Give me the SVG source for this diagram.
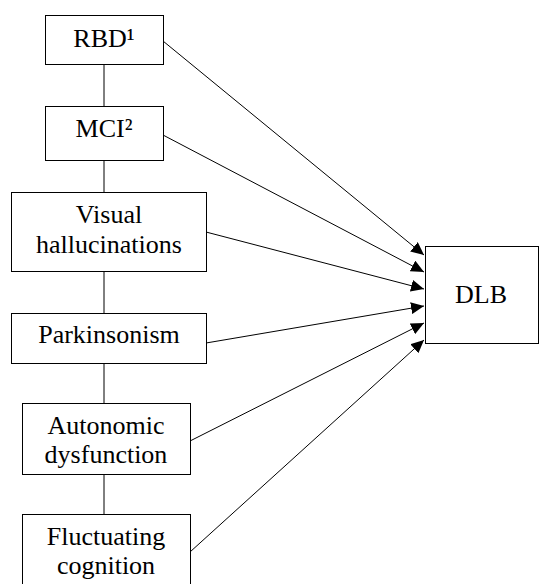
<svg xmlns="http://www.w3.org/2000/svg" width="539" height="584" viewBox="0 0 539 584">
<style>
.box{fill:#fff;stroke:#000;stroke-width:1}
.t{font-family:'Liberation Serif','DejaVu Serif',serif;font-size:26px;fill:#000;text-anchor:middle}
.c{stroke:#000;stroke-width:1;fill:none}
</style>
<defs>
<marker id="ah" markerUnits="userSpaceOnUse" markerWidth="14" markerHeight="12" viewBox="0 0 14 12" refX="13" refY="6" orient="auto">
<path d="M0,0 L13,6 L0,12 Z" fill="#000"/>
</marker>
</defs>
<rect width="539" height="584" fill="#fff"/>
<g id="connectors">
<line class="c" x1="104" y1="64" x2="104" y2="106"/>
<line class="c" x1="104" y1="160" x2="104" y2="192"/>
<line class="c" x1="104" y1="271" x2="104" y2="313"/>
<line class="c" x1="104" y1="363" x2="104" y2="403"/>
<line class="c" x1="104" y1="474" x2="104" y2="514"/>
<line class="c" x1="163" y1="41" x2="424" y2="255" marker-end="url(#ah)"/>
<line class="c" x1="163" y1="135" x2="424" y2="272" marker-end="url(#ah)"/>
<line class="c" x1="206" y1="232" x2="424" y2="289" marker-end="url(#ah)"/>
<line class="c" x1="206" y1="343" x2="424" y2="306" marker-end="url(#ah)"/>
<line class="c" x1="190" y1="441" x2="424" y2="323" marker-end="url(#ah)"/>
<line class="c" x1="190" y1="552" x2="424" y2="340" marker-end="url(#ah)"/>
</g>
<g id="rbd">
<rect class="box" x="45.5" y="15.5" width="118" height="49"/>
<text class="t" x="104" y="47" font-family="Liberation Serif">RBD¹</text>
</g>
<g id="mci">
<rect class="box" x="45.5" y="106.5" width="118" height="54"/>
<text class="t" x="104" y="137" font-family="Liberation Serif">MCI²</text>
</g>
<g id="visual">
<rect class="box" x="11.5" y="192.5" width="195" height="79"/>
<text class="t" x="109" y="223" font-family="Liberation Serif">Visual</text>
<text class="t" x="109" y="253" font-family="Liberation Serif">hallucinations</text>
</g>
<g id="parkinsonism">
<rect class="box" x="11.5" y="313.5" width="195" height="50"/>
<text class="t" x="109" y="343" font-family="Liberation Serif">Parkinsonism</text>
</g>
<g id="autonomic">
<rect class="box" x="22.5" y="403.5" width="168" height="71"/>
<text class="t" x="106" y="434" font-family="Liberation Serif">Autonomic</text>
<text class="t" x="106" y="463" font-family="Liberation Serif">dysfunction</text>
</g>
<g id="fluctuating">
<rect class="box" x="22.5" y="514.5" width="168" height="72"/>
<text class="t" x="106" y="545" font-family="Liberation Serif">Fluctuating</text>
<text class="t" x="106" y="574" font-family="Liberation Serif">cognition</text>
</g>
<g id="dlb">
<rect class="box" x="425.5" y="246.5" width="113" height="97"/>
<text class="t" x="481" y="303" font-family="Liberation Serif">DLB</text>
</g>
</svg>
